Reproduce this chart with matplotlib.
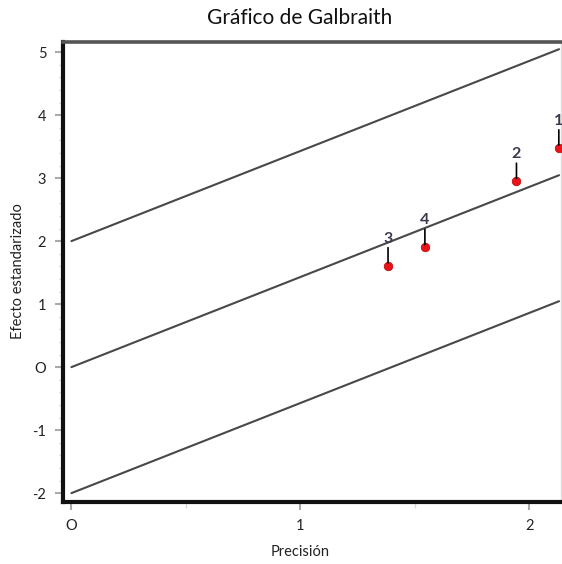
import matplotlib
matplotlib.use("Agg")
import matplotlib.pyplot as plt
import numpy as np
from matplotlib.ticker import MultipleLocator

plt.rcParams['font.family'] = ['Lato', 'DejaVu Sans']

# Study data: precision (1/SE) and standardized effect (z)
study_labels = ["1", "2", "3", "4"]
precision = [2.129, 1.944, 1.383, 1.544]
std_effect = [3.48, 2.95, 1.61, 1.90]

# Pooled slope through the origin and +/-2 bands
pooled_slope = 1.43
band = 2.0
line_x = [0.0, 2.13]

x_ticks = [0, 1, 2]
x_tick_labels = ["O", "1", "2"]
y_ticks = [-2, -1, 0, 1, 2, 3, 4, 5]
y_tick_labels = ["-2", "-1", "O", "1", "2", "3", "4", "5"]

fig = plt.figure(figsize=(5.62, 5.64), dpi=100)
ax = fig.add_axes([0.112, 0.110, 0.886, 0.8155])

lx = np.array(line_x)
for off in (band, 0.0, -band):
    ax.plot(lx, pooled_slope * lx + off, color="#484848", lw=1.5, solid_capstyle="round")

ax.scatter(precision, std_effect, s=38, color="#e8141a", edgecolor="#c00000", lw=0.5, zorder=3)
for lab, x, y in zip(study_labels, precision, std_effect):
    ax.annotate("", xy=(x, y), xytext=(0, 13), textcoords="offset points",
                arrowprops=dict(arrowstyle="-", color="black", lw=1.2, shrinkA=0, shrinkB=2))
    ax.annotate(lab, xy=(x, y), xytext=(0, 14.5), textcoords="offset points",
                ha="center", va="bottom", fontsize=11.5, color="#3a3a4e", fontweight="bold")

ax.set_xlim(-0.037, 2.138)
ax.set_ylim(-2.14, 5.16)
ax.set_xticks(x_ticks)
ax.set_xticklabels(x_tick_labels)
ax.set_yticks(y_ticks)
ax.set_yticklabels(y_tick_labels)
ax.xaxis.set_minor_locator(MultipleLocator(0.5))
ax.yaxis.set_minor_locator(MultipleLocator(0.2))

ax.tick_params(axis="both", which="major", length=6, width=1.5, color="#aaaaaa",
               labelsize=10.5, labelcolor="#222222", pad=6)
ax.tick_params(axis="both", which="minor", length=4, width=1.0, color="#d8d8d8")
ax.tick_params(axis="y", which="minor", length=3)

for side in ("left", "bottom"):
    ax.spines[side].set_linewidth(3.0)
    ax.spines[side].set_color("#111111")
ax.spines["top"].set_linewidth(2.6)
ax.spines["top"].set_color("#555555")
ax.spines["right"].set_linewidth(1.0)
ax.spines["right"].set_color("#dddddd")

fig.text(0.534, 0.968, "Gráfico de Galbraith", ha="center", va="center", fontsize=15, color="#111111")
fig.text(0.534, 0.021, "Precisión", ha="center", va="center", fontsize=10.5, color="#222222")
fig.text(0.032, 0.52, "Efecto estandarizado", ha="center", va="center", rotation=90,
         fontsize=10.5, color="#222222")

fig.savefig("out.png", dpi=100)
